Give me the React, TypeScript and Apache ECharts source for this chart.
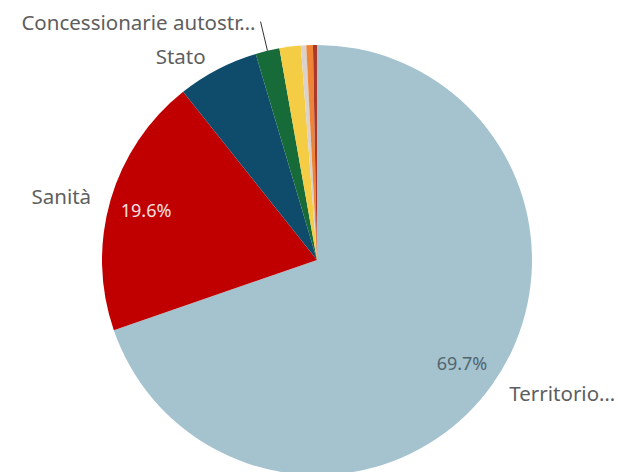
import React, { useEffect, useRef } from "react";
import * as echarts from "echarts";

const categories = [
  "Territorio…",
  "Sanità",
  "Stato",
  "Concessionarie autostr…",
  "Enti locali",
  "Altro A",
  "Altro B",
  "Altro C",
];
const values = [69.7, 19.6, 6.1, 1.8, 1.6, 0.4, 0.5, 0.3];
const colors = ["#a4c3cf", "#c00000", "#0f4c6c", "#176b38", "#f5cd45", "#d9d2cd", "#ee8438", "#a8392b"];
const showName = [true, true, true, true, false, false, false, false];
const showPct = [true, true, false, false, false, false, false, false];
const pctColors = ["#51656f", "#fbe0e0", "#fff", "#fff", "#fff", "#fff", "#fff", "#fff"];

export default function App() {
  const ref = useRef<HTMLDivElement>(null);
  useEffect(() => {
    const chart = echarts.init(ref.current!, null, { renderer: "svg" });
    const font = "'Noto Sans', sans-serif";
    chart.setOption({
      animation: false,
      series: [
        {
          type: "pie",
          center: [317, 260],
          radius: [0, 215],
          startAngle: 90,
          clockwise: true,
          avoidLabelOverlap: false,
          silent: true,
          label: {
            show: true,
            position: "outside",
            formatter: "{b}",
            fontFamily: font,
            fontSize: 20.5,
            color: "#5e5e5e",
            bleedMargin: 0,
          },
          labelLine: { show: false, length: 15, length2: 0 },
          data: categories.map((name, i) => ({
            name,
            value: values[i],
            itemStyle: { color: colors[i] },
            label: { show: showName[i] },
            labelLine:
              i === 3
                ? { show: true, length: 30, length2: 0, lineStyle: { color: "#333", width: 1 } }
                : { show: false },
          })),
        },
        {
          type: "pie",
          center: [317, 260],
          radius: [135, 215],
          startAngle: 90,
          clockwise: true,
          avoidLabelOverlap: false,
          silent: true,
          percentPrecision: 1,
          label: {
            show: true,
            position: "inside",
            formatter: "{d}%",
            fontFamily: font,
            fontSize: 18,
          },
          labelLine: { show: false },
          data: categories.map((name, i) => ({
            name,
            value: values[i],
            itemStyle: { color: "rgba(0,0,0,0)" },
            label: { show: showPct[i], color: pctColors[i] },
          })),
        },
      ],
    });
    return () => chart.dispose();
  }, []);
  return (
    <div
      ref={ref}
      style={{ position: "fixed", left: 0, top: 0, width: 618, height: 472, background: "#fff" }}
    />
  );
}
